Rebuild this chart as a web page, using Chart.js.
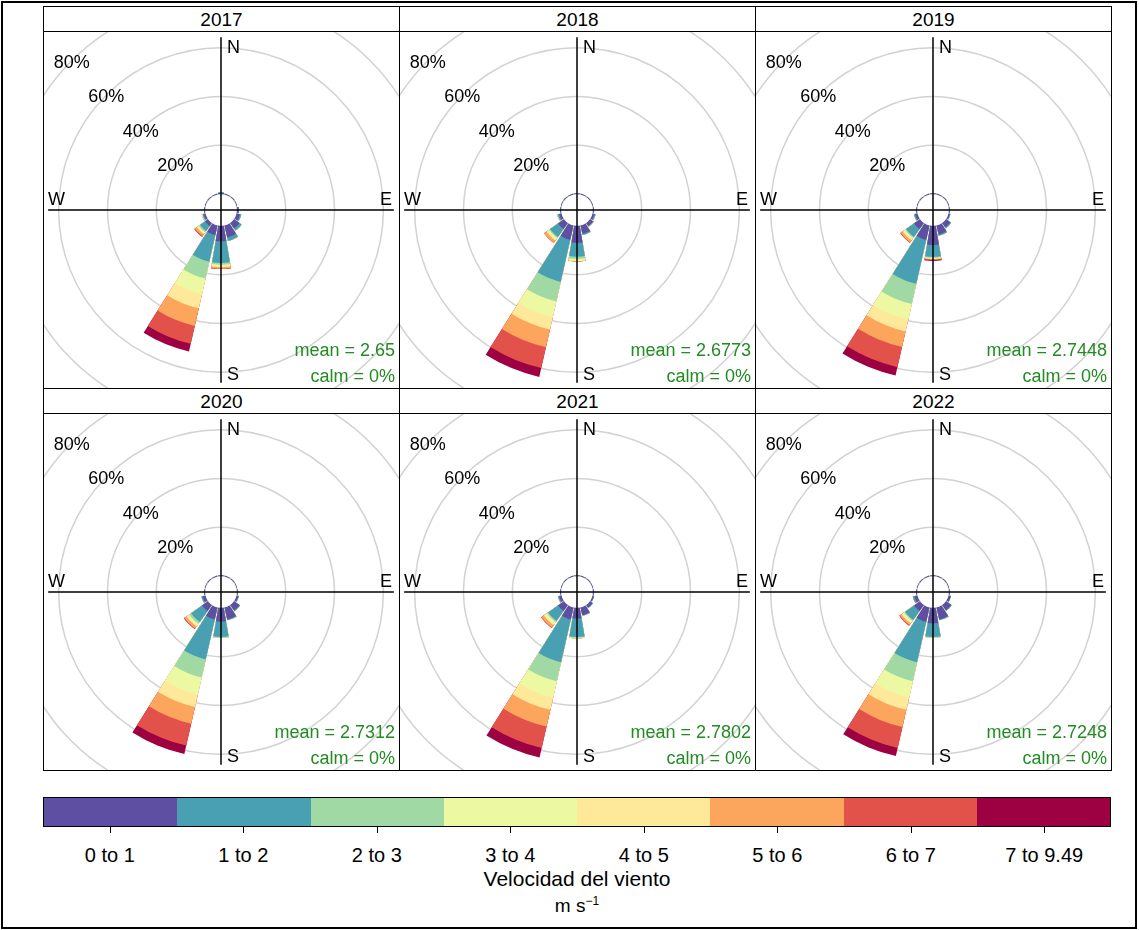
<!DOCTYPE html>
<html>
<head>
<meta charset="utf-8">
<script src="https://cdn.jsdelivr.net/npm/chart.js@4"></script>
<style>
  body { margin: 0; background: #fff; font-family: "Liberation Sans", Arial, sans-serif; }
  #frame { position: absolute; left: 1px; top: 1px; width: 1136px; height: 928px; border: 2px solid #000; box-sizing: border-box; }
  .panel { position: absolute; width: 357px; height: 383px; border: 1px solid #000; box-sizing: border-box; background: #fff; }
  .strip { height: 24px; border-bottom: 1px solid #000; text-align: center; font-size: 19px; line-height: 25px; color: #000; }
  .panel canvas { display: block; }
  #key { position: absolute; left: 43px; top: 797px; width: 1068px; height: 30px; border: 1px solid #000; box-sizing: border-box; display: flex; }
  #key div { flex: 1; }
  .tick { position: absolute; top: 827px; width: 1px; height: 6px; background: #000; }
  .klab { position: absolute; top: 844px; width: 134px; margin-left: -67px; text-align: center; font-size: 20px; line-height: 22px; }
  #ktitle { position: absolute; left: 43px; width: 1068px; top: 867px; text-align: center; font-size: 21px; line-height: 24px; }
  #kunit { position: absolute; left: 43px; width: 1068px; top: 895px; text-align: center; font-size: 19px; line-height: 22px; }
  #kunit sup { font-size: 12px; vertical-align: 7px; line-height: 0; }
</style>
</head>
<body>
<div id="frame"></div>
<div id="panels"></div>
<div id="key"></div>
<div id="ktitle">Velocidad del viento</div>
<div id="kunit">m s<sup>−1</sup></div>
<script>
// datos de la rosa de vientos
const years = ["2017", "2018", "2019", "2020", "2021", "2022"];
const means = ["2.65", "2.6773", "2.7448", "2.7312", "2.7802", "2.7248"];
const calms = ["0%", "0%", "0%", "0%", "0%", "0%"];
const directions = [0, 22.5, 45, 67.5, 90, 112.5, 135, 157.5, 180, 202.5, 225, 247.5, 270, 292.5, 315, 337.5];
const speedBins = ["0 to 1", "1 to 2", "2 to 3", "3 to 4", "4 to 5", "5 to 6", "6 to 7", "7 to 9.49"];
const binColours = ["#5E4FA2", "#48A0B2", "#A1D9A4", "#EDF8A3", "#FEE99A", "#FCA55D", "#E2524A", "#9E0142"];
const ringValues = [20, 40, 60, 80];
const ringLabels = ["20%", "40%", "60%", "80%"];

// frecuencia (%) por direccion, una fila por direccion, columnas = intervalos de velocidad
const freq2017 = [
  [0.6, 0.2], [0.3], [0.3], [0.3], [0.7, 0.2], [1.5, 0.5], [2.8, 1.0], [5.0, 1.5],
  [6.4, 8.8, 0.7, 0.6, 0.5, 0.5, 0.2, 0], [4.0, 11.2, 7.1, 6.6, 5.9, 7.4, 7.5, 3.2],
  [1.5, 2.5, 0.7, 0.5, 0.4, 1.0, 0.3, 0], [0.8, 0.4, 0.2, 0.2], [0.4], [0.3], [0.3], [0.3]
];
const freq2018 = [
  [0.4], [0.3], [0.3], [0.3], [0.4], [0.8, 0.5], [1.5, 0.3], [3.5, 0.5],
  [7.0, 5.6, 1.0, 0.6, 0.3, 0.1, 0, 0], [6.0, 17.7, 8.2, 6.6, 5.2, 7.4, 8.8, 3.7],
  [3.0, 4.0, 0.5, 0.8, 0.5, 1.2, 0, 0], [1.0, 0.6, 0.2], [0.4], [0.3], [0.3], [0.3]
];
const freq2019 = [
  [0.4], [0.3], [0.3], [0.3], [0.4], [0.6, 0.2], [2.2, 0.4], [3.8, 0.5],
  [7.8, 4.9, 0.4, 0.3, 0.2, 0.2, 0.3, 0.3], [6.0, 18.5, 8.5, 6.5, 5.0, 6.5, 8.5, 3.5],
  [3.0, 4.0, 0.5, 0.7, 0.5, 1.0, 0.2, 0], [1.0, 0.5], [0.4], [0.3], [0.3], [0.3]
];
const freq2020 = [
  [0.4], [0.3], [0.3], [0.3], [0.4], [0.8, 0.2], [2.8, 0.3], [5.0, 0.4],
  [5.7, 6.2, 0.4], [5.0, 16.8, 7.6, 7.1, 5.3, 7.0, 9.2, 3.5],
  [3.0, 5.5, 1.0, 0.8, 0.5, 1.0, 0.3, 0], [1.2, 0.5], [0.4], [0.3], [0.3], [0.3]
];
const freq2021 = [
  [0.4], [0.3], [0.3], [0.3], [0.4], [0.6, 0.1], [1.3, 0.2], [3.2, 0.3],
  [4.4, 7.5, 0.4, 0.2], [5.0, 18.0, 8.0, 6.8, 5.2, 7.0, 9.0, 4.0],
  [3.0, 5.0, 0.6, 0.8, 0.7, 1.2, 0.2, 0], [1.0, 0.5], [0.4], [0.3], [0.3], [0.3]
];
const freq2022 = [
  [0.4], [0.3], [0.3], [0.3], [0.4], [1.0], [2.6, 0.3], [5.0, 0.4],
  [6.4, 5.5, 0.3], [6.0, 17.0, 8.0, 6.8, 5.2, 7.2, 8.8, 3.4],
  [3.0, 4.5, 0.5, 0.7, 0.6, 0.8, 0.3, 0], [1.3, 0.7], [0.4], [0.3], [0.3], [0.3]
];
const yearFreqs = [freq2017, freq2018, freq2019, freq2020, freq2021, freq2022];

// geometria
const sector = 360 / directions.length;
const gapAngle = 3;
const barAngle = sector - gapAngle;
const rMin = -6.5;
const rMax = 66;
const axisLen = 64.3;

const rosePlugin = {
  id: "rose",
  afterDatasetsDraw(chart) {
    const s = chart.scales.r;
    const ctx = chart.ctx;
    const cx = s.xCenter, cy = s.yCenter;
    ctx.save();
    // hueco central
    ctx.fillStyle = "#fff";
    ctx.beginPath();
    ctx.arc(cx, cy, s.getDistanceFromCenterForValue(0), 0, Math.PI * 2);
    ctx.fill();
    // ejes N-S, W-E
    const len = s.getDistanceFromCenterForValue(axisLen);
    ctx.strokeStyle = "#000";
    ctx.lineWidth = 1.5;
    ctx.beginPath();
    ctx.moveTo(cx, cy - len); ctx.lineTo(cx, cy + len);
    ctx.moveTo(cx - len, cy); ctx.lineTo(cx + len, cy);
    ctx.stroke();

    ctx.fillStyle = "#000";
    ctx.font = '18px "Liberation Sans", Arial, sans-serif';
    ctx.textBaseline = "middle";
    ctx.textAlign = "left";
    ctx.fillText("N", cx + 6, cy - 162);
    ctx.fillText("S", cx + 6, cy + 165);
    ctx.fillText("W", cx - 173, cy - 10);
    ctx.textAlign = "right";
    ctx.fillText("E", cx + 171, cy - 10);

    ctx.textAlign = "center";
    ringValues.forEach((v, i) => {
      const d = s.getDistanceFromCenterForValue(v) * Math.SQRT1_2;
      ctx.fillText(ringLabels[i], cx - d, cy - d + 2);
    });

    const o = chart.options.plugins.rose;
    ctx.fillStyle = "#228B22";
    ctx.textAlign = "right";
    ctx.fillText("mean = " + o.mean, chart.width - 4, 319);
    ctx.fillText("calm = " + o.calm, chart.width - 4, 345);
    ctx.restore();
  }
};

function buildDatasets(freq) {
  return binColours.map((col, k) => ({
    data: freq.flatMap((row) => {
      let cum = 0;
      for (let j = 0; j <= k; j++) cum += row[j] || 0;
      return [cum, null];
    }),
    backgroundColor: (c) => (c.dataIndex % 2 ? "rgba(0,0,0,0)" : col),
    borderWidth: 0,
    angle: (c) => (c.dataIndex % 2 ? gapAngle : barAngle)
  }));
}

const panels = document.getElementById("panels");
years.forEach((yr, i) => {
  const col = i % 3, row = Math.floor(i / 3);
  const p = document.createElement("div");
  p.className = "panel";
  p.style.left = 43 + 356 * col + "px";
  p.style.top = 6 + 382 * row + "px";
  const strip = document.createElement("div");
  strip.className = "strip";
  strip.textContent = yr;
  p.appendChild(strip);
  const cv = document.createElement("canvas");
  cv.width = 355;
  cv.height = 356;
  p.appendChild(cv);
  panels.appendChild(p);

  new Chart(cv.getContext("2d"), {
    type: "polarArea",
    data: {
      labels: directions.flatMap((d) => [String(d), ""]),
      datasets: buildDatasets(yearFreqs[i])
    },
    options: {
      responsive: false,
      animation: false,
      events: [],
      layout: { padding: 0 },
      scales: {
        r: {
          min: rMin,
          max: rMax,
          startAngle: -barAngle / 2,
          afterBuildTicks: (s) => { s.ticks = ringValues.map((v) => ({ value: v })); },
          ticks: { display: false },
          grid: { color: "#d2d2d2", lineWidth: 1.5, circular: true },
          angleLines: { display: false },
          pointLabels: { display: false }
        }
      },
      plugins: {
        legend: { display: false },
        tooltip: { enabled: false },
        rose: { mean: means[i], calm: calms[i] }
      }
    },
    plugins: [rosePlugin]
  });
});

// barra de colores
const key = document.getElementById("key");
const segW = 1068 / speedBins.length;
speedBins.forEach((lab, k) => {
  const seg = document.createElement("div");
  seg.style.background = binColours[k];
  key.appendChild(seg);
  const cx = 43 + segW * (k + 0.5);
  const t = document.createElement("div");
  t.className = "tick";
  t.style.left = Math.round(cx) + "px";
  document.body.appendChild(t);
  const l = document.createElement("div");
  l.className = "klab";
  l.style.left = cx + "px";
  l.textContent = lab;
  document.body.appendChild(l);
});
</script>
</body>
</html>
